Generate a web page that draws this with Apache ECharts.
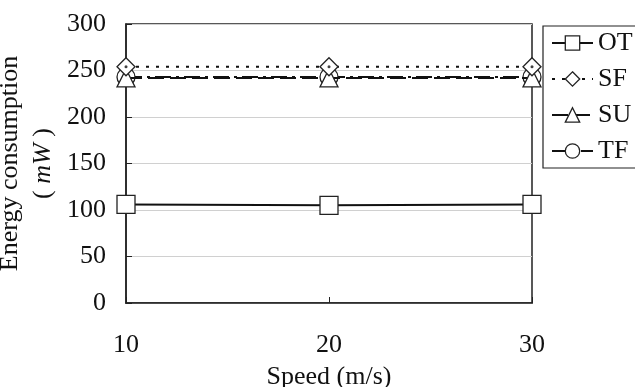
<!DOCTYPE html>
<html>
<head>
<meta charset="utf-8">
<script src="https://cdn.jsdelivr.net/npm/echarts@6/dist/echarts.min.js"></script>
<style>
  html, body { margin: 0; padding: 0; background: #fff; }
  #main { width: 635px; height: 387px; }
</style>
</head>
<body>
<div id="main"></div>
<script type="text/javascript">
    var speeds = [10, 20, 30];
    var otValues = [106, 105, 106];
    var sfValues = [254, 254, 254];
    var suValues = [242, 242, 242];
    var tfValues = [243, 243, 243];
    var yTicks = [0, 50, 100, 150, 200, 250, 300];

    var font = 'Liberation Serif';

    function pairs(vals) {
        var out = [];
        for (var i = 0; i < speeds.length; i++) out.push([speeds[i], vals[i]]);
        return out;
    }

    function makeSeries(name, vals, symbol, lineType, z) {
        return {
            name: name,
            type: 'line',
            data: pairs(vals),
            symbol: symbol,
            symbolSize: 18,
            z: z,
            itemStyle: { color: '#fff', borderColor: '#222', borderWidth: 1.3 },
            lineStyle: { color: '#111', width: 2, type: lineType },
            emphasis: { disabled: true },
            animation: false
        };
    }

    var myChart = echarts.init(document.getElementById('main'));
    var myOption = {
        animation: false,
        textStyle: { fontFamily: font, color: '#111' },
        grid: { left: 126, right: 103, top: 24, bottom: 84, outerBoundsMode: 'none', containLabel: false },
        legend: {
            orient: 'vertical',
            left: 543,
            top: 26,
            padding: [4, 10, 4, 8],
            itemGap: 10,
            itemWidth: 41,
            itemHeight: 18,
            itemStyle: { borderWidth: 1.3 },
            borderColor: '#222',
            borderWidth: 1.2,
            textStyle: { fontFamily: font, fontSize: 26, lineHeight: 26, color: '#111', padding: [0, 0, 0, 0] },
            data: ['OT', 'SF', 'SU', 'TF']
        },
        xAxis: {
            type: 'value',
            min: 10,
            max: 30,
            interval: 10,
            name: 'Speed (m/s)',
            nameLocation: 'middle',
            nameGap: 61,
            nameTextStyle: { fontFamily: font, fontSize: 26, color: '#111' },
            axisLine: { lineStyle: { color: '#222', width: 1.5 } },
            axisTick: { inside: true, length: 6, lineStyle: { color: '#222' } },
            axisLabel: { fontFamily: font, fontSize: 26, color: '#111', margin: 29 },
            splitLine: { show: false }
        },
        yAxis: {
            type: 'value',
            min: yTicks[0],
            max: yTicks[yTicks.length - 1],
            interval: 50,
            name: '{n|Energy consumption}\n{n|( }{i|mW}{n| )}',
            nameLocation: 'middle',
            nameGap: 62,
            nameRotate: 90,
            nameTextStyle: {
                rich: {
                    n: { fontFamily: font, fontSize: 26, color: '#111', lineHeight: 33 },
                    i: { fontFamily: font, fontSize: 26, fontStyle: 'italic', color: '#111', lineHeight: 33 }
                }
            },
            axisLine: { show: true, lineStyle: { color: '#222', width: 1.5 } },
            axisTick: { show: true, inside: true, length: 6, lineStyle: { color: '#222' } },
            axisLabel: { fontFamily: font, fontSize: 26, color: '#111', margin: 20 },
            splitLine: { show: true, lineStyle: { color: '#d0d0d0', width: 1 } }
        },
        graphic: [{
            type: 'rect',
            shape: { x: 126, y: 24, width: 406, height: 279 },
            style: { fill: 'none', stroke: '#222', lineWidth: 1.5 },
            silent: true,
            z: 0
        }],
        series: [
            makeSeries('OT', otValues, 'rect', 'solid', 4),
            makeSeries('SF', sfValues, 'diamond', [3, 7], 3),
            makeSeries('SU', suValues, 'triangle', [16, 6], 2),
            makeSeries('TF', tfValues, 'circle', [16, 5, 3, 5], 1),
            {
                name: 'SF dots',
                type: 'scatter',
                data: pairs(sfValues),
                symbol: 'circle',
                symbolSize: 3,
                z: 5,
                itemStyle: { color: '#111' },
                silent: true
            }
        ]
    };

    myChart.setOption(myOption);
</script>
</body>
</html>
